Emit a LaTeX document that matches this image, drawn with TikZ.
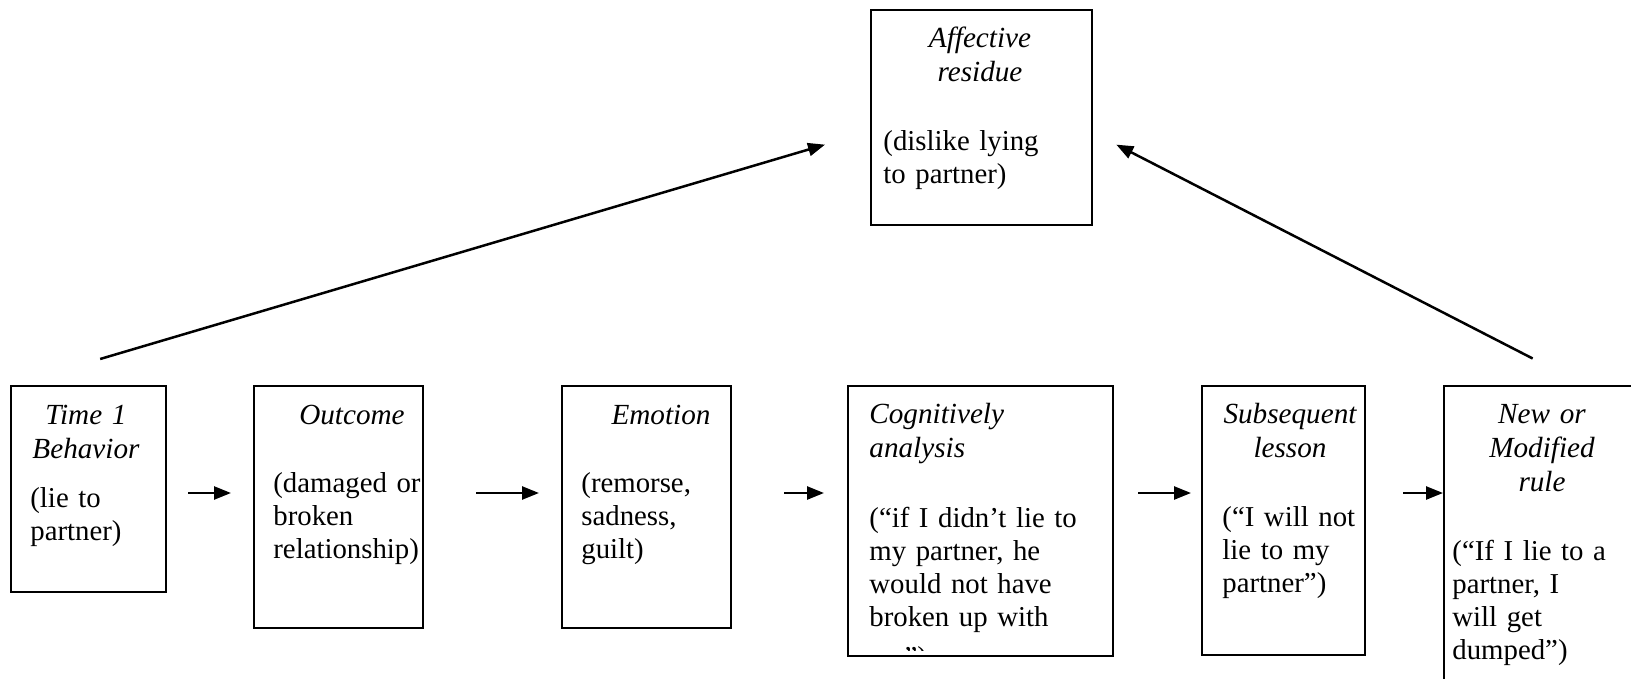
\documentclass[tikz,border=0pt]{standalone}
\usepackage{fontspec}
\setmainfont{Liberation Serif}
\usepackage{tikz}
\usetikzlibrary{positioning,arrows.meta,calc}
\tikzset{
    every node/.style={font=\fontsize{14.4}{16.5}\selectfont},
    stage/.style={draw,line width=1.15pt,rectangle,inner sep=0pt,anchor=north west},
    heading/.style={font=\fontsize{14.6}{17}\selectfont\itshape,text width=80pt,align=center,anchor=base,inner sep=0pt},
    bodytext/.style={text width=115pt,align=left,anchor=base west,inner sep=0pt},
    flow/.style={draw,-{Triangle[length=8.5pt,width=6.5pt]},line width=1.25pt}
}

\begin{document}
\begin{tikzpicture}[x=0.5pt,y=-0.5pt]
\clip (0,0) rectangle (1631,679);
\node[stage,minimum width=77.5pt,minimum height=103pt] (behav) at (10,385) {};
\node[stage,minimum width=84.5pt,minimum height=121pt] (outcome) at (253,385) {};
\node[stage,minimum width=84.5pt,minimum height=121pt] (emotion) at (561,385) {};
\node[stage,minimum width=132.5pt,minimum height=135pt] (analysis) at (847,385) {};
\node[stage,minimum width=81.5pt,minimum height=134.5pt] (lesson) at (1201,385) {};
\node[stage,minimum width=105pt,minimum height=160pt] (rule) at (1443,385) {};
\node[stage,minimum width=110.5pt,minimum height=107.5pt] (residue) at (870,9) {};

\node[heading] (behav-t) at (86,424) {Time 1\\Behavior};
\node[bodytext] (behav-b) at (30,507) {(lie to\\partner)};
\node[heading] (outcome-t) at (352,424) {Outcome};
\node[bodytext] (outcome-b) at (273,492) {(damaged or\\broken\\relationship)};
\node[heading] (emotion-t) at (661,424) {Emotion};
\node[bodytext] (emotion-b) at (581,492) {(remorse,\\sadness,\\guilt)};
\node[heading,align=left,anchor=base west] (analysis-t) at (869,423) {Cognitively\\analysis};
\node[bodytext] (analysis-b) at (869,527) {(“if I didn’t lie to\\my partner, he\\would not have\\broken up with};
\begin{scope}
\clip (analysis.north west) rectangle ([yshift=3.5pt]analysis.south east);
\node[bodytext] (analysis-c) at (869,666) {me”)};
\end{scope}
\node[heading] (lesson-t) at (1290,423) {Subsequent\\lesson};
\node[bodytext] (lesson-b) at (1222,526) {(“I will not\\lie to my\\partner”)};
\node[heading] (rule-t) at (1542,423) {New or\\Modified\\rule};
\node[bodytext] (rule-b) at (1452,560) {(“If I lie to a\\partner, I\\will get\\dumped”)};
\node[heading] (residue-t) at (980,48) {Affective\\residue};
\node[bodytext] (residue-b) at (883,151) {(dislike lying\\to partner)};

\coordinate (row) at (0,493);
\draw[flow] ([xshift=10.5pt]behav.east |- row) -- ([xshift=-11pt]outcome.west |- row);
\draw[flow] ([xshift=26pt]outcome.east |- row) -- ([xshift=-11pt]emotion.west |- row);
\draw[flow] ([xshift=26pt]emotion.east |- row) -- ([xshift=-11.5pt]analysis.west |- row);
\draw[flow] ([xshift=12pt]analysis.east |- row) -- ([xshift=-5pt]lesson.west |- row);
\draw[flow] ([xshift=18.5pt]lesson.east |- row) -- (rule.west |- row);
\draw[flow] ([shift={(11.5,-26)}]behav.north) -- ([shift={(-45,27)}]residue.west);
\draw[flow] ([shift={(-16.5,-26.5)}]rule.north) -- ([shift={(23,27)}]residue.east);
\end{tikzpicture}
\end{document}
